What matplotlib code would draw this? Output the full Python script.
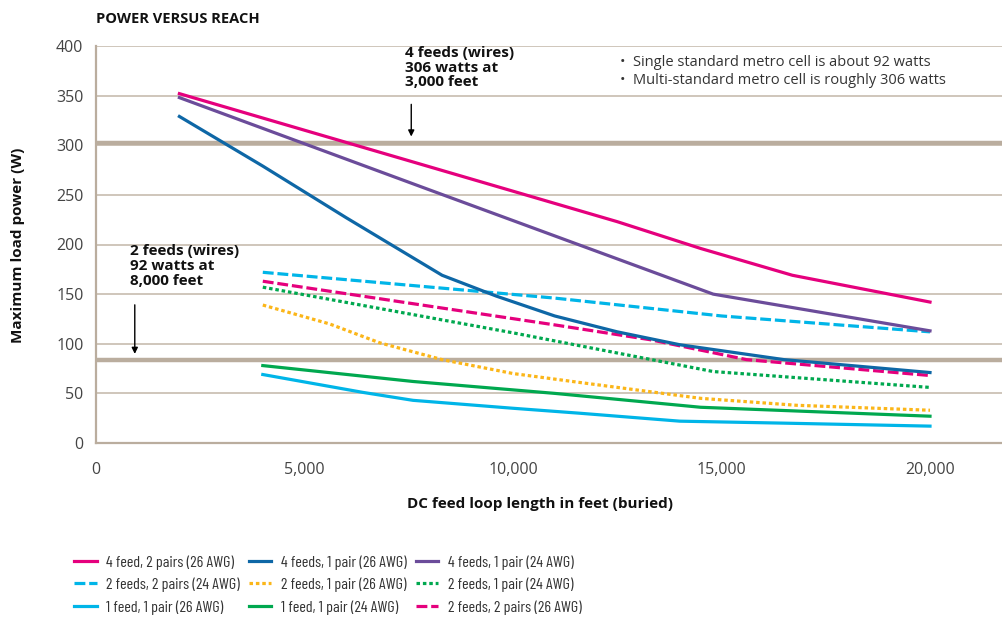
import matplotlib.pyplot as plt
from matplotlib.lines import Line2D

# data
pink_x = [2000, 12500, 14500, 16700, 20000]
pink_y = [352, 223, 196, 169, 142]
darkblue_x = [2000, 4000, 6000, 8300, 9600, 11000, 12500, 14000, 16500, 20000]
darkblue_y = [329, 279, 227, 169, 148, 128, 112, 99, 84, 71]
purple_x = [2000, 8000, 14800, 20000]
purple_y = [348, 255, 150, 113]
lbdash_x = [4000, 11000, 15000, 20000]
lbdash_y = [172, 146, 128, 112]
orange_x = [4000, 5600, 6800, 8300, 10000, 11600, 14500, 16800, 20000]
orange_y = [139, 120, 101, 84, 70, 61, 45, 38, 33]
gdot_x = [4000, 10000, 14800, 20000]
gdot_y = [157, 111, 72, 56]
lbsolid_x = [4000, 6400, 7600, 10000, 11600, 14000, 16500, 20000]
lbsolid_y = [69, 51, 43, 35, 30, 22, 20, 17]
green_x = [4000, 7600, 11000, 14500, 20000]
green_y = [78, 62, 50, 36, 27]
mdash_x = [4000, 11000, 13300, 15600, 20000]
mdash_y = [163, 119, 104, 84, 68]

ref_levels = [302, 84]
y_ticks = [0, 50, 100, 150, 200, 250, 300, 350, 400]
x_ticks = [0, 5000, 10000, 15000, 20000]
x_ticklabels = ['0', '5,000', '10,000', '15,000', '20,000']

PINK = '#e5007d'
DBLUE = '#0e67a6'
PURPLE = '#6b4c9a'
LBLUE = '#00b5e8'
ORANGE = '#fbb619'
GREEN = '#00a84f'
TAN = '#baad9e'
GRID = '#cbc1b5'

plt.rcParams['font.family'] = ['Open Sans', 'DejaVu Sans']

fig = plt.figure(figsize=(10.02, 6.19), dpi=100)
ax = fig.add_axes([96 / 1002, 1 - 443 / 619, 1 - 96 / 1002, (443 - 46) / 619])

lw = 2.3
dash = (0, (3.4, 1.2))
dot = (0, (1.1, 0.9))

ax.plot(mdash_x, mdash_y, color=PINK, lw=lw, linestyle=dash, zorder=3)
ax.plot(lbdash_x, lbdash_y, color=LBLUE, lw=lw, linestyle=dash, zorder=3)
ax.plot(orange_x, orange_y, color=ORANGE, lw=lw, linestyle=dot, zorder=3)
ax.plot(gdot_x, gdot_y, color=GREEN, lw=lw, linestyle=dot, zorder=3)
ax.plot(lbsolid_x, lbsolid_y, color=LBLUE, lw=lw, zorder=3)
ax.plot(green_x, green_y, color=GREEN, lw=lw, zorder=3)
ax.plot(darkblue_x, darkblue_y, color=DBLUE, lw=lw, zorder=4)
ax.plot(purple_x, purple_y, color=PURPLE, lw=lw, zorder=4)
ax.plot(pink_x, pink_y, color=PINK, lw=lw, zorder=4)

for lev in ref_levels:
    ax.axhline(lev, color=TAN, lw=3.2, zorder=2)

ax.set_xlim(0, (1002 - 96) / 0.0417)
ax.set_ylim(0, 400)
ax.set_yticks(y_ticks)
ax.set_xticks(x_ticks)
ax.set_xticklabels(x_ticklabels)
ax.yaxis.grid(True, color=GRID, lw=1.3)
ax.set_axisbelow(True)
ax.tick_params(length=0, labelsize=11.5, colors='#444444', pad=9)
ax.tick_params(axis='x', pad=14)
for s in ['top', 'right']:
    ax.spines[s].set_visible(False)
for s in ['left', 'bottom']:
    ax.spines[s].set_color(TAN)
    ax.spines[s].set_linewidth(1.6)

# annotations
ax.text(7400, 400, '4 feeds (wires)\n306 watts at\n3,000 feet', fontsize=11,
        fontweight='bold', va='top', ha='left', linespacing=1.05, color='#111111')
ax.annotate('', xy=(7560, 306), xytext=(7560, 344),
            arrowprops=dict(arrowstyle='-|>', color='black', lw=1, mutation_scale=9))
ax.text(820, 200, '2 feeds (wires)\n92 watts at\n8,000 feet', fontsize=11,
        fontweight='bold', va='top', ha='left', linespacing=1.05, color='#111111')
ax.annotate('', xy=(930, 87), xytext=(930, 142),
            arrowprops=dict(arrowstyle='-|>', color='black', lw=1, mutation_scale=9))

fig.text(620 / 1002, 1 - 63 / 619, '•  Single standard metro cell is about 92 watts',
         fontsize=10.5, va='center', ha='left', color='#333333')
fig.text(620 / 1002, 1 - 81 / 619, '•  Multi-standard metro cell is roughly 306 watts',
         fontsize=10.5, va='center', ha='left', color='#333333')

fig.text(96 / 1002, 1 - 19 / 619, 'POWER VERSUS REACH', fontsize=10.5,
         fontweight='bold', va='center', ha='left', color='#111111')
fig.text(18 / 1002, 1 - 245 / 619, 'Maximum load power (W)', fontsize=11,
         fontweight='bold', rotation=90, va='center', ha='center', color='#111111')
fig.text(540 / 1002, 1 - 504 / 619, 'DC feed loop length in feet (buried)', fontsize=11,
         fontweight='bold', va='center', ha='center', color='#111111')

# legend
labels = ['4 feed, 2 pairs (26 AWG)', '2 feeds, 2 pairs (24 AWG)', '1 feed, 1 pair (26 AWG)',
          '4 feeds, 1 pair (26 AWG)', '2 feeds, 1 pair (26 AWG)', '1 feed, 1 pair (24 AWG)',
          '4 feeds, 1 pair (24 AWG)', '2 feeds, 1 pair (24 AWG)', '2 feeds, 2 pairs (26 AWG)']
styles = [(PINK, '-'), (LBLUE, dash), (LBLUE, '-'),
          (DBLUE, '-'), (ORANGE, dot), (GREEN, '-'),
          (PURPLE, '-'), (GREEN, dot), (PINK, dash)]
handles = [Line2D([], [], color=c, lw=lw, linestyle=ls) for c, ls in styles]
leg = fig.legend(handles, labels, ncol=3, loc='upper left',
                 bbox_to_anchor=(74 / 1002, 1 - 555 / 619), frameon=False,
                 prop={'family': ['Barlow Condensed', 'DejaVu Sans'], 'size': 11.6},
                 handlelength=1.4, handletextpad=0.6, columnspacing=0.55,
                 labelspacing=0.5, borderaxespad=0, borderpad=0)
for t in leg.get_texts():
    t.set_color('#333333')

fig.savefig('out.png', dpi=100)
